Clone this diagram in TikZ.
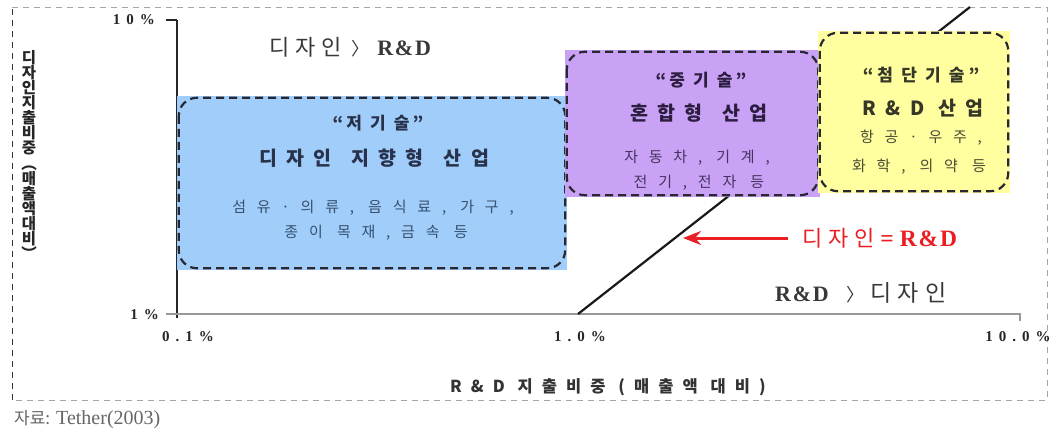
\documentclass[tikz,border=0pt]{standalone}
\usepackage{fontspec}
\setmainfont{Liberation Serif}
\newfontfamily\kr{Noto Sans CJK KR}
\newfontfamily\krT[LetterSpace=48]{Noto Sans CJK KR}
\newfontfamily\krI[LetterSpace=72]{Noto Sans CJK KR}
\newfontfamily\krA[LetterSpace=26]{Noto Sans CJK KR}
\newfontfamily\krX[LetterSpace=55]{Noto Sans CJK KR}
\newfontfamily\serA[LetterSpace=8]{Liberation Serif}
\newfontfamily\serls[LetterSpace=40]{Liberation Serif}
\usetikzlibrary{arrows.meta,calc}
\definecolor{bluef}{RGB}{160,205,250}
\definecolor{purpf}{RGB}{202,162,245}
\definecolor{yellf}{RGB}{255,255,160}
\definecolor{bord}{RGB}{40,40,50}
\definecolor{bluet}{RGB}{40,50,75}
\definecolor{bluei}{RGB}{55,80,110}
\definecolor{purpt}{RGB}{45,30,65}
\definecolor{purpi}{RGB}{70,50,95}
\definecolor{yellt}{RGB}{55,55,40}
\definecolor{yelli}{RGB}{75,75,50}
\definecolor{redt}{RGB}{235,30,35}
\newcommand{\wg}{\hspace{6pt}}
\tikzset{
  boxfill/.style={rectangle, inner sep=0pt, draw=none},
  boxborder/.style={draw=bord, line width=2.2pt, dash pattern=on 8pt off 5pt, rounded corners=18pt},
  ttl/.style={font={\krT\bfseries\fontsize{19.5}{22}\selectfont}, inner sep=0pt},
  qttl/.style={font={\krT\bfseries\fontsize{17}{20}\selectfont}, inner sep=0pt},
  itm/.style={font={\krI\fontsize{15}{18}\selectfont}, inner sep=0pt},
  ticklab/.style={font={\serls\bfseries\fontsize{15}{16}\selectfont}, inner sep=0pt, text=black!85},
  axisline/.style={line width=1.3pt},
  reglab/.style={inner sep=0pt, text=black!78},
}
\begin{document}
\begin{tikzpicture}[x=1pt,y=-1pt]
\useasboundingbox (0,0) rectangle (1051,434);
% outer frame
\draw[gray!70, line width=1pt, dash pattern=on 6pt off 5pt] (12,7) -- (1047,7) -- (1047,400) -- (12,400);
\draw[black!80, line width=1pt, dash pattern=on 6pt off 5pt] (12,400) -- (12,7);
% axes
\coordinate (o) at (177,314);
\coordinate (ytop) at (177,20);
\coordinate (xend) at (1020,314);
\draw[axisline, black!85] (177,318) -- (ytop);
\draw[axisline, black!85] (166,20) -- (ytop);
\draw[axisline, gray!80] (166,314) -- (o) -- (xend) -- (1020,321);
% diagonal
\coordinate (d0) at (578,314);
\coordinate (d1) at (970,7);
\draw[line width=2.2pt, black!90] (d0) -- (d1);
% blue box
\node[boxfill, fill=bluef, minimum width=390pt, minimum height=174pt] (blue) at (372,183) {};
\draw[boxborder] ($(blue.north west)+(2,2)$) rectangle ($(blue.south east)+(-2,-2)$);
% purple box
\node[boxfill, fill=purpf, minimum width=255pt, minimum height=147pt] (purp) at (692.5,123.5) {};
\draw[boxborder] ($(purp.north west)+(2,2)$) rectangle ($(purp.south east)+(-2,-2)$);
% yellow box
\node[boxfill, fill=yellf, minimum width=192pt, minimum height=162pt] (yell) at (914,112) {};
\draw[boxborder] ($(yell.north west)+(2,2)$) rectangle ($(yell.south east)+(-2,-2)$);
% blue texts
\node[qttl, text=bluet] (b1) at (378,123) {“\hspace{3pt}저기술\hspace{3pt}”};
\node[ttl, text=bluet] (b2) at (374,158) {디자인\wg{} 지향형\wg{} 산업};
\node[itm, text=bluei] (b3) at (373,208) {섬유·의류, 음식료, 가구,};
\node[itm, text=bluei] (b4) at (376,233) {종이 목재,금속 등};
% purple texts
\node[qttl, text=purpt] (p1) at (701,80) {“\hspace{3pt}중기술\hspace{3pt}”};
\node[ttl, text=purpt] (p2) at (699,113) {혼합형\wg{} 산업};
\node[itm, text=purpi] (p3) at (697,158) {자동차, 기계,};
\node[itm, text=purpi] (p4) at (699,183) {전기,전자 등};
% yellow texts
\node[qttl, text=yellt] (y1) at (921,75) {“\hspace{4pt}첨단기술\hspace{4pt}”};
\node[ttl, text=yellt] (y2) at (923,108) {R\&D 산업};
\node[itm, text=yelli] (y3) at (921,138) {항공·우주,};
\node[itm, text=yelli] (y4) at (919,167) {화학, 의약 등};
% region labels
\node[reglab, anchor=west] (dgt) at (269,47) {{\krA\fontsize{22}{24}\selectfont 디자인}\hspace{10pt}{\kr\fontsize{18}{22}\selectfont 〉}\hspace{8pt}{\serA\bfseries\fontsize{22}{24}\selectfont R\&D}};
\node[reglab, anchor=west] (rgt) at (775,293) {{\serA\bfseries\fontsize{22}{24}\selectfont R\&D}\hspace{18pt}{\kr\fontsize{18}{22}\selectfont 〉}\hspace{6pt}{\krA\fontsize{23}{24}\selectfont 디자인}};
\node[inner sep=0pt, anchor=west, text=redt] (eq) at (802,238) {{\krA\fontsize{22}{24}\selectfont 디자인}\hspace{6pt}{\serA\bfseries\fontsize{23.5}{24}\selectfont =\hspace{6pt}R\&D}};
\coordinate (tip) at (683,238);
\draw[redt, line width=3pt, -{Stealth[length=18pt,width=14pt]}] ([xshift=-14pt]eq.west) -- (tip);
% tick labels
\node[ticklab, anchor=east] (l10) at (155,20) {10\%};
\node[ticklab, anchor=east] (l1) at (159,315) {1\%};
\node[ticklab] (x01) at (188,337) {0.1\%};
\node[ticklab] (x1) at (580,337) {1.0\%};
\node[ticklab] (x10) at (1018,337) {10.0\%};
% axis titles
\node[inner sep=0pt, text=black!80, font={\krX\bfseries\fontsize{16.5}{18}\selectfont}] (xt) at (608,387) {R\&D 지출비중 (매출액 대비)};
\node[inner sep=0pt, align=center, text=black!85, font={\kr\bfseries\fontsize{15.5}{15.1}\selectfont}] (yt) at (29,155) {디\\자\\인\\지\\출\\비\\중\\︵\\매\\출\\액\\대\\비\\︶};
% source
\node[inner sep=0pt, anchor=west, text=black!60] (src) at (14,420) {{\kr\fontsize{17}{20}\selectfont 자료:}\hspace{6pt}{\fontsize{20}{24}\selectfont Tether(2003)}};
\end{tikzpicture}
\end{document}
